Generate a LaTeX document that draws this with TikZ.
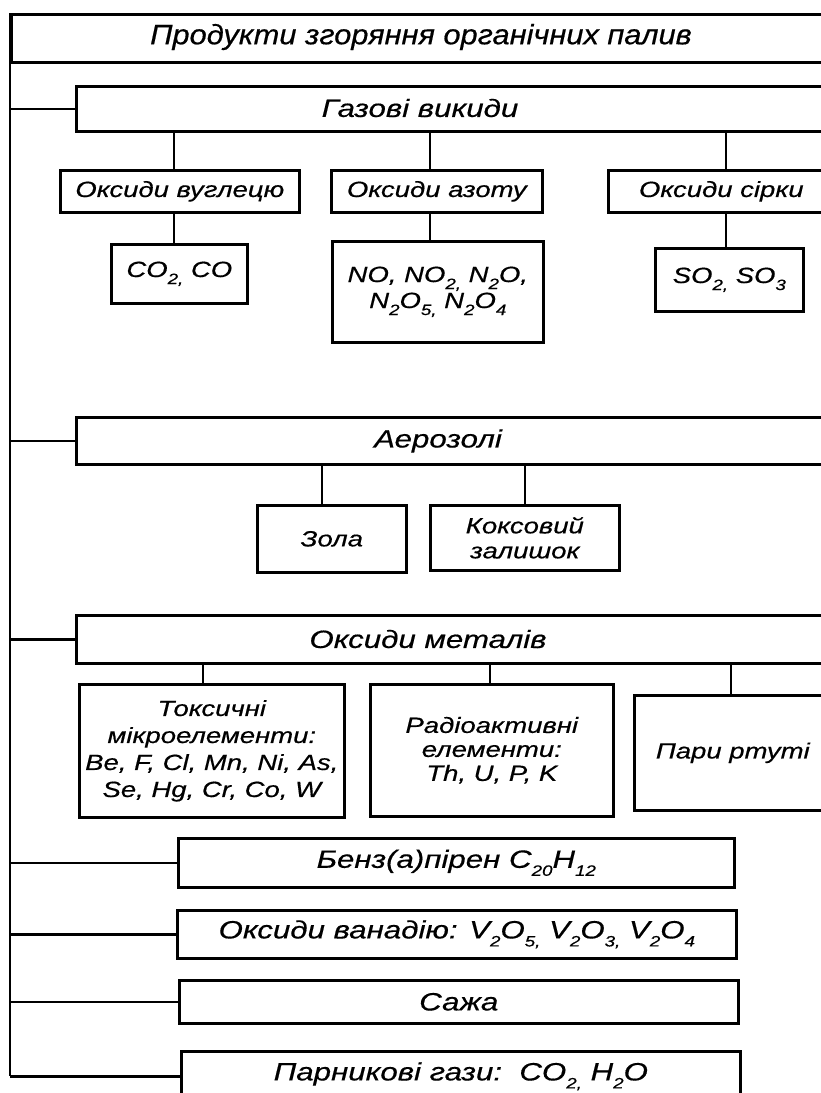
\documentclass[tikz,border=0pt]{standalone}
\usepackage{fontspec}
\setmainfont{Liberation Sans}[FakeStretch=1.25, FakeBold=0.5]
\newfontfamily\titlefont{Liberation Sans}[FakeStretch=1.1, FakeBold=0.5]
\newcommand\sbs[1]{\raisebox{-0.32em}{\fontsize{15}{15}\selectfont #1}}
\begin{document}
\begin{tikzpicture}[x=1pt,y=-1pt,
  box/.style={draw, line width=2.6pt, rectangle, inner sep=0pt, anchor=north west},
  lbl/.style={font=\fontsize{22}{26}\selectfont\itshape, align=center},
  rowlbl/.style={font=\fontsize{25}{28}\selectfont\itshape, align=center},
  big/.style={font=\fontsize{25}{28}\selectfont\itshape, inner sep=0pt},
  ttl/.style={font=\titlefont\fontsize{28}{30}\selectfont\itshape, inner sep=0pt},
  thinln/.style={line width=1.2pt},
  spine/.style={line width=2.6pt}]
\useasboundingbox (0,0) rectangle (821,1093);
\clip (0,0) rectangle (821,1093);
% top
\node[box, minimum width=880pt, minimum height=48pt] (top) at (10,13) {};
\node[ttl] (topt) at (421,37) {Продукти згоряння органічних палив};
% gas
\node[box, minimum width=820pt, minimum height=45pt] (gaz) at (75,85) {};
\node[big] (gazt) at (420,108) {Газові викиди};
\node[box, lbl, minimum width=239pt, minimum height=42pt] (vugl) at (59,169) {Оксиди вуглецю};
\node[box, lbl, minimum width=211pt, minimum height=42pt] (azot) at (330,169) {Оксиди азоту};
\node[box, lbl, minimum width=226pt, minimum height=42pt] (sirk) at (607,169) {Оксиди сірки};
\node[box, lbl, minimum width=136pt, minimum height=59pt] (co) at (110,243) {CO\sbs{2,} CO};
\node[box, lbl, minimum width=211pt, minimum height=101pt] (no) at (331,240) {NO, NO\sbs{2,} N\sbs{2}O,\\N\sbs{2}O\sbs{5,} N\sbs{2}O\sbs{4}};
\node[box, lbl, minimum width=148pt, minimum height=63pt] (so) at (654,247) {SO\sbs{2,} SO\sbs{3}};
% aerosols
\node[box, minimum width=820pt, minimum height=47pt] (aer) at (75,416) {};
\node[big] (aert) at (438,441) {Аерозолі};
\node[box, lbl, minimum width=149pt, minimum height=67pt] (zola) at (256,504) {Зола};
\node[box, lbl, minimum width=189pt, minimum height=65pt, font=\fontsize{22}{25}\selectfont\itshape] (koks) at (429,504) {Коксовий\\залишок};
% metal oxides
\node[box, minimum width=820pt, minimum height=48pt] (met) at (75,614) {};
\node[big] (mett) at (428,639) {Оксиди металів};
\node[box, lbl, minimum width=265pt, minimum height=133pt, font=\fontsize{22}{27}\selectfont\itshape] (tox) at (78,683) {Токсичні\\мікроелементи:\\Be, F, Cl, Mn, Ni, As,\\Se, Hg, Cr, Co, W};
\node[box, lbl, minimum width=243pt, minimum height=132pt, font=\fontsize{22}{24}\selectfont\itshape] (rad) at (369,683) {Радіоактивні\\елементи:\\Th, U, P, K};
\node[box, lbl, minimum width=197pt, minimum height=115pt] (rtut) at (633,694) {Пари ртуті};
% single rows
\node[box, rowlbl, minimum width=556pt, minimum height=49pt] (benz) at (177,837) {Бенз(а)пірен C\sbs{20}H\sbs{12}};
\node[box, rowlbl, minimum width=559pt, minimum height=48pt] (van) at (176,909) {Оксиди ванадію: V\sbs{2}O\sbs{5,} V\sbs{2}O\sbs{3,} V\sbs{2}O\sbs{4}};
\node[box, rowlbl, minimum width=559pt, minimum height=43pt] (saja) at (178,979) {Сажа};
\node[box, rowlbl, minimum width=559pt, minimum height=50pt] (parn) at (180,1050) {Парникові гази:\ \ CO\sbs{2,} H\sbs{2}O};
% spine and branches
\draw[spine] (top.north west) -- (top.west |- parn.west);
\foreach \n in {gaz,aer,met,benz,van,saja,parn}
  \draw[spine] (top.west |- \n.west) -- (\n.west);
% sub connectors
\draw[thinln] (gaz.south -| 174,0) -- (vugl.north -| 174,0);
\draw[thinln] (gaz.south -| 430,0) -- (azot.north -| 430,0);
\draw[thinln] (gaz.south -| 726,0) -- (sirk.north -| 726,0);
\draw[thinln] (vugl.south -| 174,0) -- (co.north -| 174,0);
\draw[thinln] (azot.south -| 430,0) -- (no.north -| 430,0);
\draw[thinln] (sirk.south -| 726,0) -- (so.north -| 726,0);
\draw[thinln] (aer.south -| 322,0) -- (zola.north -| 322,0);
\draw[thinln] (aer.south -| 525,0) -- (koks.north -| 525,0);
\draw[thinln] (met.south -| 203,0) -- (tox.north -| 203,0);
\draw[thinln] (met.south -| 490,0) -- (rad.north -| 490,0);
\draw[thinln] (met.south -| 731,0) -- (rtut.north -| 731,0);
\end{tikzpicture}
\end{document}
